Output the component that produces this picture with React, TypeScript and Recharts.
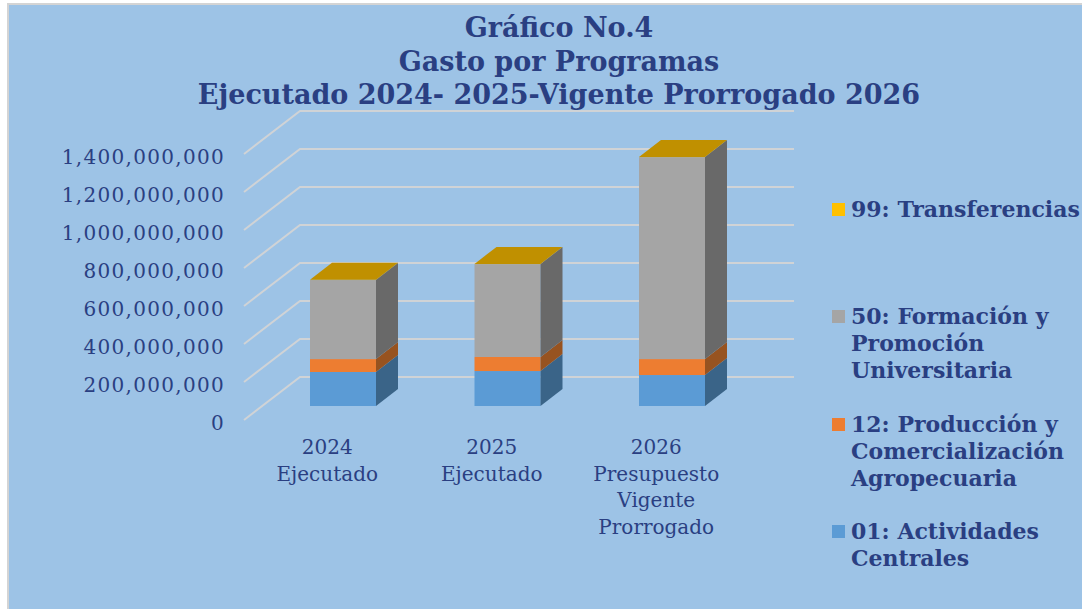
import { BarChart, Bar, XAxis, YAxis, CartesianGrid, Legend } from 'recharts'

const years = ['2024\nEjecutado', '2025\nEjecutado', '2026\nPresupuesto\nVigente\nProrrogado']
const actividades = [179000000, 184000000, 163000000]
const produccion = [68000000, 74000000, 84000000]
const formacion = [416000000, 489000000, 1063000000]
const transferencias = [1000000, 1000000, 1000000]
const yTicks = [0, 200000000, 400000000, 600000000, 800000000, 1000000000, 1200000000, 1400000000]
const titleLines = ['Gráfico No.4', 'Gasto por Programas', 'Ejecutado 2024- 2025-Vigente Prorrogado 2026']

const data = years.map((year, i) => ({
  year,
  actividades: actividades[i],
  produccion: produccion[i],
  formacion: formacion[i],
  transferencias: transferencias[i],
}))

const TEXT = '#2a3f82'
const SERIF = '"DejaVu Serif", serif'
const FLOOR_DY = -14
const DEPTH_X = 22
const DEPTH_Y = -17

// every segment is a front face plus a side face, the top one also gets the lid
function box(side: string, lid?: string) {
  return (props: any) => {
    const { x, width, fill } = props
    const y = props.y + FLOOR_DY
    const h = props.height
    const r = x + width
    return (
      <g>
        <rect x={x} y={y} width={width} height={h} fill={fill} />
        <polygon
          points={`${r},${y} ${r + DEPTH_X},${y + DEPTH_Y} ${r + DEPTH_X},${y + h + DEPTH_Y} ${r},${y + h}`}
          fill={side}
        />
        {lid && (
          <polygon
            points={`${x},${y} ${x + DEPTH_X},${y + DEPTH_Y} ${r + DEPTH_X},${y + DEPTH_Y} ${r},${y}`}
            fill={lid}
          />
        )}
      </g>
    )
  }
}

function gridLine(props: any) {
  const { x1, x2, y1, key } = props
  return (
    <polyline
      key={key}
      points={`${x1 - 17},${y1} ${x1 + 39},${y1 - 43} ${x2 + 39.5},${y1 - 43}`}
      fill="none"
      stroke="#d0d3d6"
      strokeWidth={2}
    />
  )
}

function YearTick({ x, y, payload }: any) {
  const lines = String(payload.value).split('\n')
  return (
    <text x={x - 16} y={y} textAnchor="middle" fill={TEXT} fontFamily={SERIF} fontSize={20}>
      {lines.map((line, i) => (
        <tspan key={line} x={x - 16} y={y + 26 + i * 26.6}>
          {line}
        </tspan>
      ))}
    </text>
  )
}

function LegendBox({ payload }: any) {
  const items = [...(payload ?? [])].reverse()
  return (
    <div>
      {items.map((item: any) => (
        <div key={item.value} style={{ height: 107.3, display: 'flex' }}>
          <div style={{ width: 13, height: 13, marginTop: 7, marginRight: 6, flex: 'none', background: item.color }} />
          <div style={{ color: TEXT, fontFamily: SERIF, fontWeight: 700, fontSize: 22, lineHeight: '27px', width: 232 }}>
            {item.value}
          </div>
        </div>
      ))}
    </div>
  )
}

export default function App() {
  return (
    <div style={{ position: 'absolute', left: 0, top: 0, width: 1082, height: 609, background: '#fff', overflow: 'hidden' }}>
      <div style={{ position: 'absolute', left: 7, top: 3, width: 1075, height: 606, background: '#9dc3e6', borderLeft: '2px solid #d4d4d4', borderTop: '2px solid #d4d4d4', boxSizing: 'border-box' }} />
      <div style={{ position: 'absolute', left: 0, top: 0 }}>
        <BarChart width={1082} height={609} data={data} margin={{ top: 154, right: 327.5, bottom: 0, left: 0 }} barSize={66}>
          <CartesianGrid vertical={false} horizontal={gridLine} />
          <XAxis dataKey="year" height={189} axisLine={false} tickLine={false} interval={0} tick={<YearTick />} />
          <YAxis
            width={261}
            domain={[0, 1400000000]}
            ticks={yTicks}
            axisLine={false}
            tickLine={false}
            tickSize={0}
            tickMargin={36}
            tickFormatter={(v: number) => v.toLocaleString('en-US')}
            tick={{ fill: TEXT, fontFamily: SERIF, fontSize: 20, letterSpacing: 1.3, dy: 3 }}
          />
          <Legend
            layout="vertical"
            align="center"
            verticalAlign="middle"
            wrapperStyle={{ left: 832, top: 196, width: 250 }}
            content={<LegendBox />}
          />
          <Bar dataKey="actividades" name="01: Actividades Centrales" stackId="a" fill="#5b9bd5" shape={box('#3a6488')} isAnimationActive={false} />
          <Bar dataKey="produccion" name="12: Producción y Comercialización Agropecuaria" stackId="a" fill="#ed7d31" shape={box('#975320')} isAnimationActive={false} />
          <Bar dataKey="formacion" name="50: Formación y Promoción Universitaria" stackId="a" fill="#a5a5a5" shape={box('#696969')} isAnimationActive={false} />
          <Bar dataKey="transferencias" name="99: Transferencias" stackId="a" fill="#ffc000" shape={box('#997300', '#c09000')} isAnimationActive={false} />
        </BarChart>
      </div>
      <div style={{ position: 'absolute', left: 0, top: 11, width: 1118, textAlign: 'center', color: TEXT, fontFamily: SERIF, fontWeight: 700, fontSize: 27, lineHeight: '33.5px' }}>
        {titleLines.map((line) => (
          <div key={line}>{line}</div>
        ))}
      </div>
    </div>
  )
}
